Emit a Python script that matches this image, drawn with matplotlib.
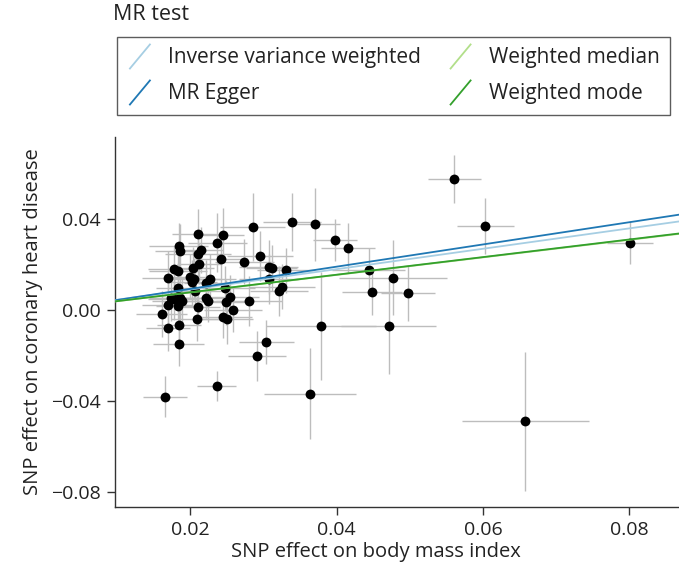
import matplotlib
matplotlib.use("Agg")
import matplotlib.pyplot as plt
from matplotlib.lines import Line2D
from matplotlib.legend_handler import HandlerBase

plt.rcParams['font.family'] = ['Open Sans', 'DejaVu Sans']

# SNP effects on BMI (x) and CHD (y), with standard errors
bmi_effect = [0.0210, 0.0244, 0.0237, 0.0285, 0.0339, 0.0371, 0.0398, 0.0416,
              0.0184, 0.0186, 0.0214, 0.0210, 0.0242, 0.0274, 0.0295, 0.0212,
              0.0177, 0.0183, 0.0203, 0.0307, 0.0311, 0.0331, 0.0169, 0.0199,
              0.0205, 0.0227, 0.0222, 0.0307, 0.0183, 0.0207, 0.0248, 0.0325,
              0.0321, 0.0173, 0.0177, 0.0186, 0.0188, 0.0221, 0.0254, 0.0280,
              0.0169, 0.0183, 0.0249, 0.0211, 0.0258, 0.0161, 0.0184, 0.0209,
              0.0244, 0.0250, 0.0170, 0.0184, 0.0304, 0.0291, 0.0236, 0.0165,
              0.0364, 0.0444, 0.0477, 0.0448, 0.0497, 0.0379, 0.0471, 0.0561,
              0.0603, 0.0801, 0.0658, 0.0202, 0.0224]
chd_effect = [0.0334, 0.0330, 0.0296, 0.0364, 0.0387, 0.0376, 0.0308, 0.0274,
              0.0281, 0.0258, 0.0264, 0.0247, 0.0224, 0.0212, 0.0238, 0.0202,
              0.0178, 0.0171, 0.0186, 0.0188, 0.0185, 0.0174, 0.0140, 0.0146,
              0.0138, 0.0136, 0.0118, 0.0135, 0.0098, 0.0085, 0.0095, 0.0103,
              0.0082, 0.0053, 0.0047, 0.0054, 0.0039, 0.0053, 0.0055, 0.0038,
              0.0023, 0.0019, 0.0033, 0.0015, 0.0001, -0.0018, -0.0065, -0.0038,
              -0.0033, -0.0038, -0.0079, -0.0148, -0.0142, -0.0202, -0.0335, -0.0381,
              -0.0369, 0.0174, 0.0142, 0.0077, 0.0073, -0.0072, -0.0070, 0.0576,
              0.0369, 0.0295, -0.0490, 0.0121, 0.0039]
bmi_se = [0.0035, 0.0030, 0.0040, 0.0045, 0.0040, 0.0034, 0.0030, 0.0037,
          0.0040, 0.0035, 0.0030, 0.0045, 0.0035, 0.0040, 0.0045, 0.0030,
          0.0035, 0.0040, 0.0030, 0.0040, 0.0035, 0.0040, 0.0035, 0.0030,
          0.0035, 0.0035, 0.0030, 0.0040, 0.0030, 0.0035, 0.0040, 0.0045,
          0.0040, 0.0030, 0.0035, 0.0030, 0.0040, 0.0035, 0.0040, 0.0045,
          0.0035, 0.0030, 0.0035, 0.0030, 0.0040, 0.0035, 0.0030, 0.0035,
          0.0040, 0.0035, 0.0030, 0.0035, 0.0038, 0.0040, 0.0027, 0.0030,
          0.0063, 0.0050, 0.0074, 0.0041, 0.0037, 0.0075, 0.0065, 0.0036,
          0.0039, 0.0031, 0.0087, 0.0035, 0.0030]
chd_se = [0.011, 0.012, 0.013, 0.015, 0.0127, 0.016, 0.0092, 0.011,
          0.010, 0.012, 0.010, 0.011, 0.012, 0.010, 0.011, 0.009,
          0.010, 0.011, 0.009, 0.012, 0.010, 0.010, 0.012, 0.010,
          0.009, 0.011, 0.010, 0.011, 0.010, 0.009, 0.010, 0.010,
          0.011, 0.010, 0.009, 0.011, 0.010, 0.009, 0.010, 0.011,
          0.010, 0.009, 0.010, 0.008, 0.010, 0.010, 0.009, 0.010,
          0.009, 0.011, 0.010, 0.010, 0.0097, 0.011, 0.0066, 0.009,
          0.020, 0.010, 0.0165, 0.010, 0.012, 0.0237, 0.021, 0.0105,
          0.0125, 0.0095, 0.0306, 0.010, 0.009]

# MR estimates (intercept, slope)
methods = ["Inverse variance weighted", "MR Egger", "Weighted median", "Weighted mode"]
intercepts = [0.0, -0.0005, 0.0, 0.0]
slopes = [0.448, 0.488, 0.385, 0.387]
colors = ["#a6cee3", "#1f78b4", "#b2df8a", "#33a02c"]

x_ticks = [0.02, 0.04, 0.06, 0.08]
y_ticks = [-0.08, -0.04, 0.00, 0.04]

fig = plt.figure(figsize=(6.79, 5.78), dpi=100)
ax = fig.add_axes([115 / 679, 1 - 507 / 578, 1 - 115 / 679, (507 - 137) / 578])

ax.errorbar(bmi_effect, chd_effect, xerr=bmi_se, yerr=chd_se, fmt='none',
            ecolor='#bdbdbd', elinewidth=1.0, capsize=0, zorder=1)
ax.scatter(bmi_effect, chd_effect, s=50, color='black', zorder=2, linewidths=0)

handles = []
for a, b, c, m in zip(intercepts, slopes, colors, methods):
    ax.axline((0, a), slope=b, color=c, lw=1.3, zorder=3)
    handles.append(Line2D([], [], color=c, lw=1.3, label=m))

ax.set_xlim(0.0097, 0.0868)
ax.set_ylim(-0.0866, 0.076)
ax.set_xticks(x_ticks)
ax.set_xticklabels([f"{v:.2f}" for v in x_ticks])
ax.set_yticks(y_ticks)
ax.set_yticklabels([f"{v:.2f}".replace("-", "\u2212") for v in y_ticks])
for s in ['top', 'right']:
    ax.spines[s].set_visible(False)
for s in ['left', 'bottom']:
    ax.spines[s].set_color('#333333')
    ax.spines[s].set_linewidth(1.0)
ax.tick_params(axis='both', direction='out', length=6, width=1, color='#333333',
               labelsize=14, labelcolor='#222222', pad=4)
ax.set_xlabel("SNP effect on body mass index", fontsize=14.5, color='#222222')
ax.xaxis.set_label_coords(0.463, -0.095)
ax.set_ylabel("SNP effect on coronary heart disease", fontsize=14.5, color='#222222', labelpad=6)


class DiagHandler(HandlerBase):
    def create_artists(self, legend, orig_handle, xdescent, ydescent, width, height,
                       fontsize, trans):
        x0 = -xdescent + width * 0.1
        x1 = -xdescent + width * 0.9
        y0 = -ydescent - height * 0.35
        y1 = -ydescent + height * 1.3
        ln = Line2D([x0, x1], [y0, y1], color=orig_handle.get_color(),
                    lw=orig_handle.get_linewidth())
        ln.set_transform(trans)
        return [ln]


leg = fig.legend(handles=handles, labels=methods,
                 ncol=2, loc='upper left',
                 bbox_to_anchor=(117 / 679, 1 - 113 / 578, 553 / 679, 76 / 578),
                 mode='expand', borderaxespad=0, fontsize=15, frameon=True,
                 fancybox=False, handlelength=1.2, handletextpad=0.75,
                 labelspacing=0.72, borderpad=0.5,
                 handler_map={Line2D: DiagHandler()})
leg.get_frame().set_edgecolor('#333333')
leg.get_frame().set_linewidth(1.0)
for t in leg.get_texts():
    t.set_color('#222222')

fig.text(113 / 679, 1 - 15 / 578, "MR test", fontsize=15.5, color='#222222',
         ha='left', va='center')

fig.savefig("out.png", dpi=100)
